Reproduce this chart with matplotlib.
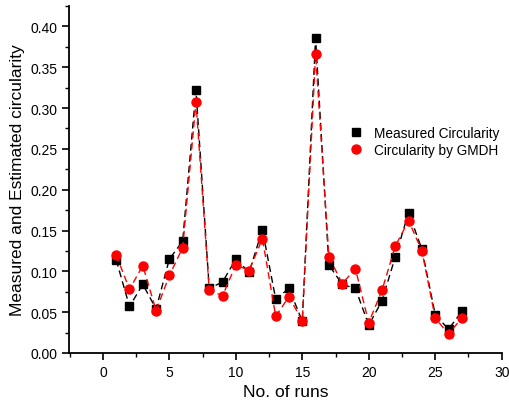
import numpy as np
import matplotlib
matplotlib.use('Agg')
import matplotlib.pyplot as plt
from matplotlib.ticker import MultipleLocator

plt.rcParams['font.family'] = ['Liberation Sans', 'DejaVu Sans']

# run number and circularity values
runs = [1, 2, 3, 4, 5, 6, 7, 8, 9, 10, 11, 12, 13, 14, 15, 16, 17, 18, 19, 20,
        21, 22, 23, 24, 25, 26, 27]
measured = [0.114, 0.057, 0.084, 0.054, 0.115, 0.137, 0.322, 0.079, 0.087, 0.115,
            0.099, 0.151, 0.066, 0.079, 0.039, 0.386, 0.108, 0.084, 0.079, 0.034,
            0.064, 0.118, 0.172, 0.127, 0.047, 0.029, 0.051]
gmdh = [0.120, 0.078, 0.107, 0.052, 0.095, 0.129, 0.307, 0.077, 0.070, 0.108,
        0.101, 0.140, 0.045, 0.069, 0.039, 0.366, 0.118, 0.085, 0.103, 0.037,
        0.077, 0.131, 0.162, 0.125, 0.043, 0.023, 0.043]

fig = plt.figure(figsize=(5.09, 4.14), dpi=100)
ax = fig.add_axes([0.1356, 0.145, 0.850, 0.838])

ax.plot(runs, measured, ls=(0, (5, 3)), lw=1.0, color='black', marker='s',
        ms=6, label='Measured Circularity', zorder=3)
ax.plot(runs, gmdh, ls=(0, (5, 3)), lw=1.0, color='red', marker='o',
        ms=6.5, label='Circularity by GMDH', zorder=4)

ax.set_xlim(-2.55, 30)
ax.set_ylim(0, 0.425)
ax.xaxis.set_major_locator(MultipleLocator(5))
ax.xaxis.set_minor_locator(MultipleLocator(2.5))
ax.yaxis.set_major_locator(MultipleLocator(0.05))
ax.yaxis.set_minor_locator(MultipleLocator(0.025))
ax.yaxis.set_major_formatter(matplotlib.ticker.FormatStrFormatter('%.2f'))

for side in ['top', 'right']:
    ax.spines[side].set_visible(False)
for side in ['left', 'bottom']:
    ax.spines[side].set_linewidth(1.3)
ax.tick_params(which='major', direction='out', length=5, width=1.2, labelsize=10)
ax.tick_params(which='minor', direction='out', length=3, width=1.0)

ax.set_xlabel('No. of runs', fontsize=12.5)
ax.set_ylabel('Measured and Estimated circularity', fontsize=12.5)

leg = ax.legend(loc='center left', bbox_to_anchor=(0.617, 0.61), frameon=False,
                fontsize=9.8, handlelength=1.1, handletextpad=0.8, labelspacing=0.25)
for h in leg.legend_handles:
    h.set_linestyle('none')

fig.savefig('out.png', dpi=100)
